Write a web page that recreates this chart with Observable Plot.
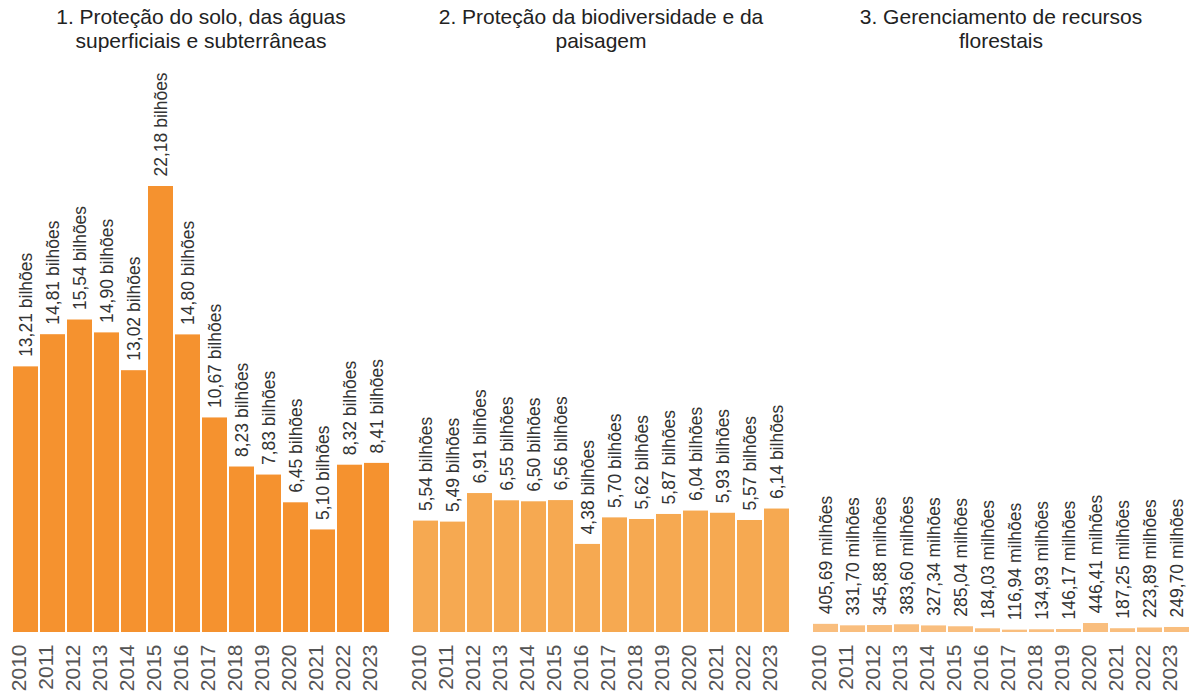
<!DOCTYPE html>
<html><head><meta charset="utf-8">
<script src="https://cdn.jsdelivr.net/npm/d3@7"></script>
<script src="https://cdn.jsdelivr.net/npm/@observablehq/plot@0.6"></script>
<style>
body{margin:0;background:#fff;}
</style>
</head><body><div id="chart"></div>
<script>
const years = ["2010","2011","2012","2013","2014","2015","2016","2017","2018","2019","2020","2021","2022","2023"];
const panelTitles = [
  "1. Proteção do solo, das águas\nsuperficiais e subterrâneas",
  "2. Proteção da biodiversidade e da\npaisagem",
  "3. Gerenciamento de recursos\nflorestais"
];
const panelUnits = ["bilhões", "bilhões", "milhões"];
const panelColors = ["#f5922f", "#f6a951", "#f9be7e"];
// values in the unit shown on the label
const soloAguas = [13.21,14.81,15.54,14.90,13.02,22.18,14.80,10.67,8.23,7.83,6.45,5.10,8.32,8.41];
const biodiversidade = [5.54,5.49,6.91,6.55,6.50,6.56,4.38,5.70,5.62,5.87,6.04,5.93,5.57,6.14];
const florestais = [405.69,331.70,345.88,383.60,327.34,285.04,184.03,116.94,134.93,146.17,446.41,187.25,223.89,249.70];

const series = [soloAguas, biodiversidade, florestais];
const toBillions = [1, 1, 0.001];
const fmt = v => d3.format(".2f")(v).replace(".", ",");

const rows = [];
series.forEach((vals, i) => {
  vals.forEach((v, j) => {
    rows.push({
      panel: panelTitles[i],
      year: years[j],
      value: v * toBillions[i],
      label: fmt(v) + " " + panelUnits[i],
      color: panelColors[i]
    });
  });
});
const titleRows = panelTitles.map(t => ({panel: t}));
const yearRows = rows;

const font = "'Liberation Sans', Arial, Helvetica, sans-serif";

const chart = Plot.plot({
  width: 1190,
  height: 691,
  marginLeft: 10,
  marginRight: 0,
  marginTop: 0,
  marginBottom: 59,
  style: {fontFamily: font, background: "#fff"},
  fx: {domain: panelTitles, paddingInner: 0.0525, paddingOuter: 0, axis: null},
  x: {domain: years, paddingInner: 0.08, paddingOuter: 0, axis: null},
  y: {domain: [0, 22.18], range: [632, 186], axis: null},
  color: {type: "identity"},
  marks: [
    Plot.barY(rows, {fx: "panel", x: "year", y: "value", fill: "color"}),
    Plot.text(rows, {
      fx: "panel", x: "year", y: "value", text: "label",
      rotate: -90, textAnchor: "start", dy: -10,
      fontSize: 17.5, fill: "#333"
    }),
    Plot.text(yearRows, {
      fx: "panel", x: "year", text: "year", frameAnchor: "bottom",
      rotate: -90, textAnchor: "end", dy: 12,
      fontSize: 21, fill: "#555"
    }),
    Plot.text(titleRows, {
      fx: "panel", text: "panel", frameAnchor: "top",
      lineAnchor: "top", dy: 6, lineHeight: 1.15,
      fontSize: 21, fill: "#222"
    })
  ]
});
document.getElementById("chart").appendChild(chart);
</script>
</body></html>
